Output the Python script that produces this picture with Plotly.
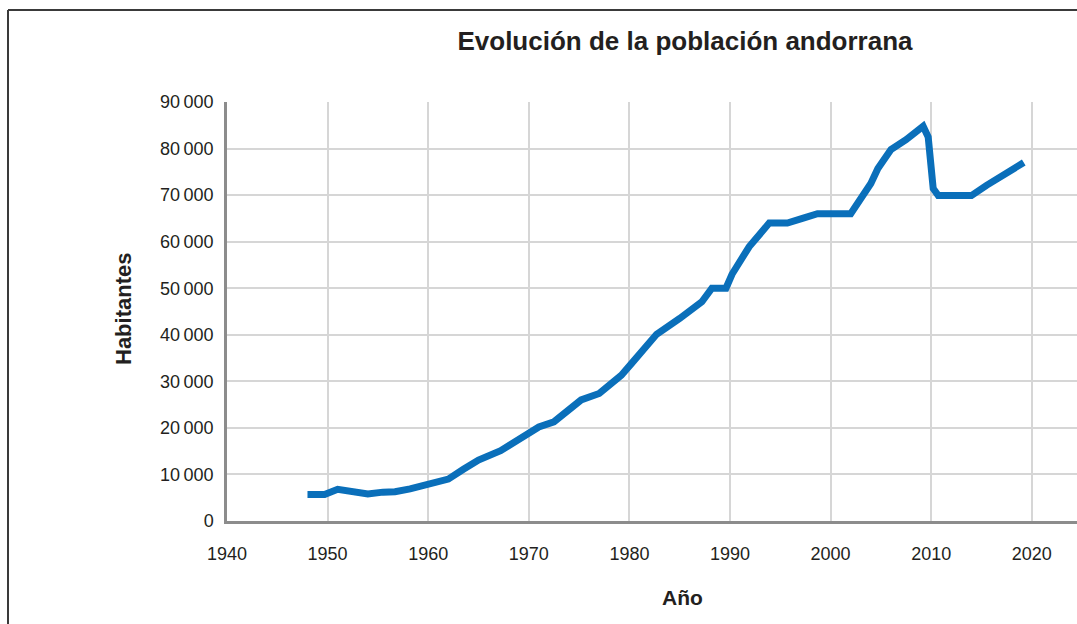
import plotly.graph_objects as go

# Población de Andorra por año
years = [1948, 1949.7, 1951, 1954, 1955.5, 1956.7, 1958.2, 1960.2, 1962, 1963.5,
         1965, 1967.2, 1969.2, 1971, 1972.5, 1974.2, 1975.2, 1977, 1979.2, 1980.2,
         1982.7, 1985, 1987.2, 1988.2, 1989.6, 1990.2, 1991.9, 1993.9, 1995.7, 1997.2,
         1998.7, 2002, 2003.2, 2004, 2004.7, 2006, 2007.5, 2008.2, 2009.2, 2009.7,
         2010.2, 2010.7, 2014, 2015.5, 2019.2]
population = [5700, 5700, 6800, 5800, 6200, 6300, 6900, 8200, 9000, 11100,
              13100, 15100, 18000, 20200, 21300, 24200, 26000, 27400, 31300, 33800,
              40100, 43500, 47100, 50000, 50000, 53000, 58900, 64000, 64000, 65000,
              66000, 66000, 69600, 72500, 75700, 79800, 81900, 83300, 84800, 82500,
              71400, 69900, 69900, 72100, 77000]

x_ticks = [1940, 1950, 1960, 1970, 1980, 1990, 2000, 2010, 2020]
y_ticks = [0, 10000, 20000, 30000, 40000, 50000, 60000, 70000, 80000, 90000]
y_labels = ["0", "10\u2009000", "20\u2009000", "30\u2009000", "40\u2009000",
            "50\u2009000", "60\u2009000", "70\u2009000", "80\u2009000", "90\u2009000"]

W, H = 1077, 624
ML, MT, MB = 227, 102, 103
FONT = "Liberation Sans, Arial, Helvetica, sans-serif"
TXT = "#231f20"

fig = go.Figure(go.Scatter(
    x=years, y=population, mode="lines",
    line=dict(color="#0a6fba", width=7),
    hoverinfo="x+y",
))

pw = W - ML
ph = H - MT - MB

def px_to_paper_x(px):
    return (px - ML) / pw

def px_to_paper_y(py):
    return (H - MB - py) / ph

# marco exterior (bordes superior e izquierdo)
frame = dict(color="#3a3a3a", width=2)
shapes = [
    dict(type="line", xref="paper", yref="paper",
         x0=px_to_paper_x(8), x1=px_to_paper_x(W + 5),
         y0=px_to_paper_y(10), y1=px_to_paper_y(10), line=frame, layer="above"),
    dict(type="line", xref="paper", yref="paper",
         x0=px_to_paper_x(8), x1=px_to_paper_x(8),
         y0=px_to_paper_y(10), y1=px_to_paper_y(H + 5), line=frame, layer="above"),
]

fig.update_layout(
    width=W, height=H,
    margin=dict(l=ML, r=0, t=MT, b=MB, pad=0),
    paper_bgcolor="white", plot_bgcolor="white",
    showlegend=False,
    font=dict(family=FONT, color=TXT, size=18),
    title=dict(text="<b>Evolución de la población andorrana</b>",
               x=685 / W, xanchor="center", y=1 - 41 / H, yanchor="middle",
               font=dict(size=26, color=TXT, family=FONT)),
    shapes=shapes,
    annotations=[
        dict(text="<b>Habitantes</b>", xref="paper", yref="paper",
             x=px_to_paper_x(123), y=px_to_paper_y(309), textangle=-90,
             showarrow=False, xanchor="center", yanchor="middle",
             font=dict(size=22, color=TXT, family=FONT)),
        dict(text="<b>Año</b>", xref="paper", yref="paper",
             x=px_to_paper_x(682), y=px_to_paper_y(597),
             showarrow=False, xanchor="center", yanchor="middle",
             font=dict(size=21, color=TXT, family=FONT)),
    ],
)

fig.update_xaxes(
    range=[1940, 1940 + pw / 10.06],
    tickvals=x_ticks, ticktext=[str(t) for t in x_ticks],
    showgrid=True, gridcolor="#d6d6d6", gridwidth=2,
    showline=True, linecolor="#8c8c8c", linewidth=2.5,
    zeroline=False, ticks="outside", ticklen=0, tickcolor="white",
    ticklabelstandoff=15,
    tickfont=dict(size=18, color=TXT, family=FONT),
)
fig.update_yaxes(
    range=[0, 90000],
    tickvals=y_ticks, ticktext=y_labels,
    showgrid=True, gridcolor="#d6d6d6", gridwidth=2,
    showline=True, linecolor="#8c8c8c", linewidth=2.5,
    zeroline=False, ticks="outside", ticklen=0, tickcolor="white",
    ticklabelstandoff=7,
    tickfont=dict(size=18, color=TXT, family=FONT),
)

fig.write_html("out.html")
